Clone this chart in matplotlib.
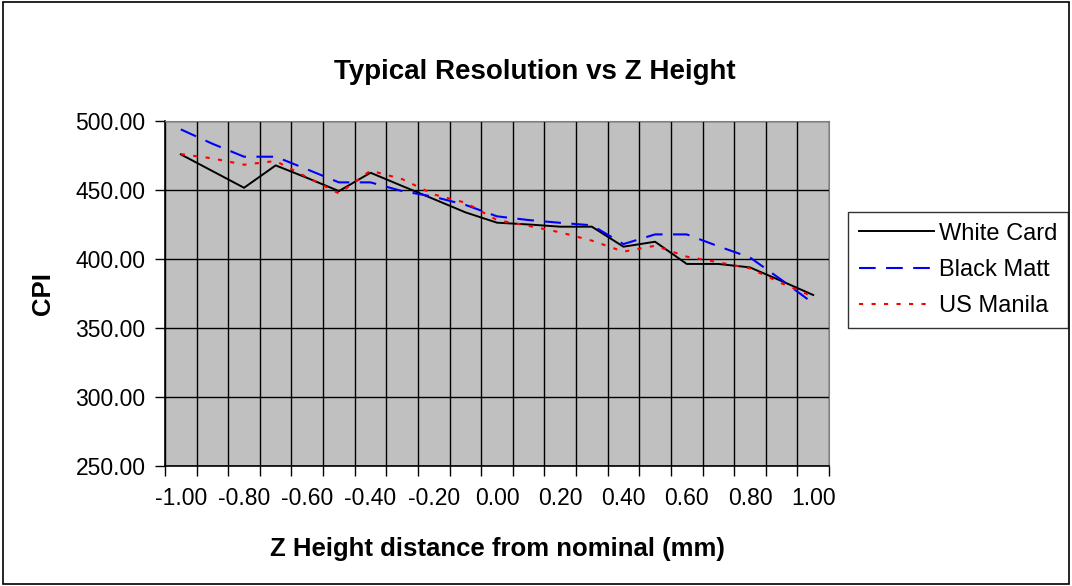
"""Typical resolution vs Z height, Excel-style line chart."""

import numpy as np
from matplotlib import pyplot as plt
from matplotlib.patches import Rectangle

plt.rcParams["font.family"] = ["Liberation Sans", "DejaVu Sans"]

# categories: z height (mm), -1.00 .. 1.00 in 0.1 steps
z_height = [-1.0, -0.9, -0.8, -0.7, -0.6, -0.5, -0.4, -0.3, -0.2, -0.1, 0.0,
            0.1, 0.2, 0.3, 0.4, 0.5, 0.6, 0.7, 0.8, 0.9, 1.0]

white_card = [475.6, 463.5, 451.4, 467.6, 458.5, 449.0, 462.3, 452.7, 443.2, 433.6, 426.1,
              424.8, 423.2, 423.2, 408.7, 412.3, 396.2, 396.2, 393.7, 383.8, 373.7]
black_matt = [493.7, 483.3, 473.9, 473.9, 464.7, 455.3, 455.3, 449.0, 444.9, 439.0, 430.7,
              428.0, 426.0, 424.2, 410.6, 417.6, 417.6, 409.0, 400.9, 384.6, 367.7]
us_manila = [475.8, 472.7, 468.1, 470.8, 458.9, 447.3, 463.8, 457.7, 446.6, 440.6, 428.0,
             423.8, 419.1, 413.1, 405.1, 409.4, 401.5, 397.4, 393.0, 382.2, 372.5]

y_ticks = [250, 300, 350, 400, 450, 500]

fig = plt.figure(figsize=(10.72, 5.86), dpi=100)
ax = fig.add_axes([165 / 1072, 1 - 465.7 / 586, (829 - 165) / 1072, 345 / 586])

# outer chart border
fig.patches.append(Rectangle((0.003, 0.004), 0.994, 0.992, transform=fig.transFigure,
                             fill=False, edgecolor="black", linewidth=1.2))

pos = np.arange(len(z_height))
ax.set_facecolor("#C0C0C0")

ax.plot(pos, white_card, color="black", linewidth=1.4, label="White Card", zorder=3)
ax.plot(pos, black_matt, color="#0000FF", linewidth=1.5, linestyle=(0, (8, 5)),
        label="Black Matt", zorder=3)
ax.plot(pos, us_manila, color="#FF0000", linewidth=1.5, linestyle=(0, (2, 4)),
        label="US Manila", zorder=3)

ax.set_xlim(-0.5, len(z_height) - 0.5)
ax.set_ylim(250, 500)

# category boundaries carry the ticks and gridlines, labels sit on every other category
ax.set_xticks(np.arange(-0.5, len(z_height), 1.0))
ax.set_xticklabels([])
ax.set_xticks(pos[::2], minor=True)
ax.set_xticklabels([f"{z_height[i]:.2f}" for i in pos[::2]], minor=True, fontsize=16.5)
ax.tick_params(axis="x", which="minor", length=0, pad=15)
ax.tick_params(axis="x", which="major", length=7, width=1, direction="out")

ax.set_yticks(y_ticks)
ax.set_yticklabels([f"{v:.2f}" for v in y_ticks], fontsize=16.5)
ax.tick_params(axis="y", length=7, width=1, direction="out", pad=7)

ax.grid(True, which="major", color="black", linewidth=1.0)
ax.set_axisbelow(True)
for side in ["top", "right"]:
    ax.spines[side].set_color("#808080")
for side in ["left", "bottom"]:
    ax.spines[side].set_color("black")
    ax.spines[side].set_linewidth(1.2)

ax.set_xlabel("Z Height distance from nominal (mm)", fontsize=18.5, fontweight="bold",
              labelpad=20)
ax.set_ylabel("CPI", fontsize=18.5, fontweight="bold", labelpad=15)
fig.text(0.499, 0.877, "Typical Resolution vs Z Height", ha="center", va="center",
         fontsize=20, fontweight="bold")

leg = fig.legend(loc="upper left", bbox_to_anchor=(848 / 1072, 1 - 212 / 586),
                 fontsize=17, frameon=True, fancybox=False, handlelength=3.2,
                 handletextpad=0.2, borderpad=0.45, labelspacing=0.6, borderaxespad=0)
leg.get_frame().set_edgecolor("black")
leg.get_frame().set_linewidth(1.0)

plt.savefig("out.png", dpi=100)
plt.close()
